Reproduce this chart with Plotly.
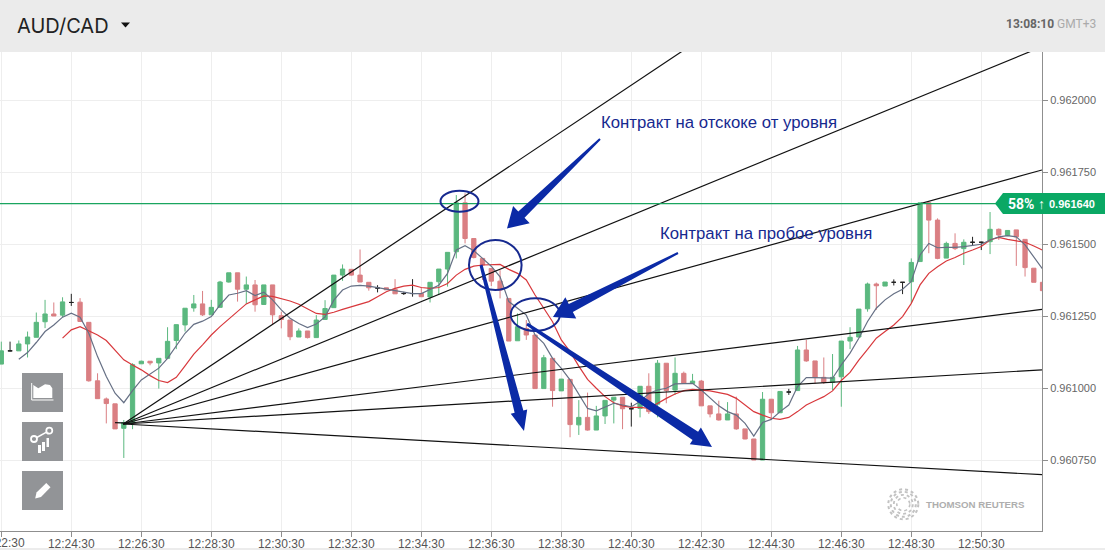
import math
import pandas as pd
import plotly.graph_objects as go

# ---------- data (prices in millionths) ----------
open_e6 = [961083,961129,961129,961153,961176,961230,961257,961253,961297,961298,
961228,961025,960962,960945,960860,960880,961084,961093,961087,961103,
961165,961219,961278,961292,961254,961280,961368,961400,961343,961358,
961290,961358,961251,961236,961177,961198,961175,961238,961279,961392,
961412,961392,961367,961347,961348,961343,961328,961328,961328,961316,
961369,961413,961473,961643,961519,961450,961415,961371,961311,961164,
961207,961184,960998,961103,960990,961030,960872,960898,960854,960903,
960958,960968,960928,960929,961006,960944,961086,960993,961051,961016,
961024,960938,960910,960889,960910,960858,960823,960750,960961,960914,
960986,960991,961132,961094,961037,961019,961039,961163,961177,961275,
961361,961354,961367,961367,961369,961439,961643,961583,961451,961502,
961484,961506,961506,961508,961551,961529,961549,961516,961416,961367]
high_e6 = [961161,961161,961165,961196,961262,961306,961297,961315,961327,961312,
961228,961051,960967,960945,960889,961086,961095,961093,961103,961211,
961220,961277,961323,961337,961306,961372,961400,961400,961387,961375,
961358,961358,961265,961236,961207,961198,961253,961305,961392,961429,
961412,961481,961367,961357,961348,961378,961334,961378,961349,961367,
961413,961471,961670,961676,961519,961450,961415,961409,961311,961259,
961236,961184,961115,961103,961031,961030,960958,960984,960938,960957,
960968,960968,960949,961006,961051,961097,961086,961106,961057,961049,
961028,960938,960956,960951,960970,960858,960823,960986,960961,960988,
960997,961146,961167,961094,961106,961118,961163,961211,961274,961366,
961366,961368,961377,961367,961450,961643,961647,961589,961508,961537,
961516,961525,961508,961611,961554,961547,961549,961516,961416,961367]
low_e6 = [961083,961127,961129,961106,961176,961208,961250,961246,961285,961231,
961022,960963,960877,960858,960757,960857,961084,961079,960998,961103,
961135,961196,961265,961250,961254,961280,961366,961300,961292,961265,
961290,961219,961207,961166,961177,961172,961175,961236,961279,961372,
961390,961368,961338,961332,961340,961327,961323,961317,961317,961297,
961323,961352,961450,961502,961450,961375,961354,961311,961163,961164,
961167,960998,960998,960935,960990,960829,960837,960852,960854,960875,
960877,960857,960866,960898,960910,960898,960947,960976,961014,961014,
960938,960898,960887,960889,960855,960822,960750,960750,960891,960914,
960976,960991,961091,961015,961014,960993,960935,961135,961177,961265,
961271,961354,961356,961326,961294,961439,961468,961447,961451,961479,
961427,961493,961479,961465,961514,961529,961424,961387,961367,961338]
close_e6 = [961129,961129,961153,961177,961228,961257,961250,961299,961297,961231,
961025,960963,960946,960858,960880,961081,961093,961087,961103,961162,
961220,961277,961292,961254,961280,961368,961400,961343,961358,961289,
961358,961254,961238,961178,961198,961175,961236,961276,961392,961413,
961392,961368,961348,961347,961341,961327,961328,961328,961317,961367,
961413,961471,961643,961519,961453,961427,961371,961340,961163,961213,
961184,960998,961105,960991,961031,960873,960898,960854,960903,960957,
960968,960928,960928,961006,960918,961086,960991,961051,961016,961024,
960938,960910,960889,960910,960858,960823,960750,960961,960914,960988,
960986,961132,961094,961036,961019,961037,961163,961176,961274,961361,
961355,961368,961367,961367,961436,961643,961583,961450,961502,961484,
961506,961506,961506,961551,961531,961547,961525,961418,961367,961338]

fast_ma_e6 = [None,None,961100,961123,961158,961196,961219,961246,961260,961246,
961190,961109,961040,960982,960949,960991,961028,961049,961069,961103,
961146,961190,961221,961232,961248,961289,961323,961329,961338,961321,
961333,961306,961271,961242,961224,961210,961222,961247,961305,961340,
961354,961356,961354,961349,961344,961338,961332,961328,961328,961342,
961357,961398,961479,961494,961477,961450,961423,961386,961300,961277,
961253,961184,961155,961103,961068,961028,960976,960929,960921,960935,
960947,960941,960935,960953,960981,960993,960999,961014,961016,961016,
960993,960964,960938,960918,960906,960877,960833,960880,960891,960918,
960941,961005,961036,961036,961034,961034,961080,961121,961173,961231,
961277,961306,961327,961343,961370,961462,961502,961487,961488,961488,
961491,961494,961499,961514,961525,961529,961525,961497,961456,961413]

slow_ma_e6 = [None,None,None,None,None,None,None,961173,961202,961213,
961199,961184,961165,961132,961098,961080,961063,961043,961026,961019,
961037,961077,961118,961150,961184,961213,961239,961268,961292,961306,
961320,961318,961311,961302,961291,961274,961259,961256,961263,961273,
961282,961291,961300,961317,961334,961346,961354,961357,961349,961346,
961349,961363,961392,961412,961423,961427,961429,961429,961412,961398,
961375,961323,961277,961230,961167,961126,961076,961030,960999,960970,
960949,960938,960933,960933,960929,960947,960964,960979,960991,960995,
960993,960990,960984,960978,960964,960941,960918,960906,960895,960891,
960898,960918,960941,960956,960970,960990,961026,961054,961097,961134,
961173,961196,961219,961248,961294,961358,961398,961421,961441,961453,
961468,961479,961491,961514,961523,961516,961511,961506,961493,961479]

first_candle = "2024-01-01 12:22:30"
first_tick_label = "12:22:30"
current_price = 0.961640
current_line_times = ["2024-01-01 12:22:00", "2024-01-01 12:53:00"]
payout_text = "58% ↑"
price_text = "0.961640"
y_ticks = [0.960750, 0.961000, 0.961250, 0.961500, 0.961750, 0.962000]

fan_start_time = "2024-01-01 12:25:59"
fan_start_price = 0.960875
fan_end_times = ["2024-01-01 12:42:11"] + ["2024-01-01 12:52:14"] * 5
fan_end_prices = [0.962188, 0.962185, 0.961757, 0.961273, 0.961063, 0.960699]
stub_times = ["2024-01-01 12:25:45", "2024-01-01 12:26:07"]
stub_prices = [0.960880, 0.960878]

# ---------- page geometry ----------
W, H = 1105, 550
L, R, T, B = 0, 1042, 52, 531

GREEN, RED = "#5bb87f", "#da7f83"
BLUE = "#0b2aa6"
NAVY = "#16298f"
times = pd.date_range(first_candle, periods=len(open_e6), freq="15s")

def px(x):
    return (x - L) / (R - L)

def py(y):
    return (B - y) / (B - T)

def path(points, close=True):
    d = "M" + " L".join(f"{px(x):.5f},{py(y):.5f}" for x, y in points)
    return d + (" Z" if close else "")

def poly(points, fill, close=True, line=None, width=0):
    return dict(type="path", xref="paper", yref="paper", path=path(points, close),
                fillcolor=fill if close else "rgba(0,0,0,0)",
                line=dict(color=line or fill, width=width))

def rect(x0, y0, x1, y1, fill):
    return dict(type="rect", xref="paper", yref="paper", x0=px(x0), x1=px(x1),
                y0=py(y0), y1=py(y1), fillcolor=fill, line=dict(width=0))

def ellipse(cx, cy, rx, ry, color=NAVY, width=2, fill="rgba(0,0,0,0)", dash="solid"):
    return dict(type="circle", xref="paper", yref="paper", x0=px(cx - rx), x1=px(cx + rx),
                y0=py(cy + ry), y1=py(cy - ry), fillcolor=fill,
                line=dict(color=color, width=width, dash=dash))

def arrow(start, tip, w0, w1, head_w, head_l):
    (x0, y0), (x1, y1) = start, tip
    n = math.hypot(x1 - x0, y1 - y0)
    ux, uy = (x1 - x0) / n, (y1 - y0) / n
    nx, ny = -uy, ux
    bx, by = x1 - ux * head_l, y1 - uy * head_l
    return poly([
        (x0 + nx * w0 / 2, y0 + ny * w0 / 2),
        (bx + nx * w1 / 2, by + ny * w1 / 2),
        (bx + nx * head_w / 2, by + ny * head_w / 2),
        (x1, y1),
        (bx - nx * head_w / 2, by - ny * head_w / 2),
        (bx - nx * w1 / 2, by - ny * w1 / 2),
        (x0 - nx * w0 / 2, y0 - ny * w0 / 2),
    ], BLUE)

# ---------- traces ----------
fig = go.Figure()
scaled = lambda seq: [None if v is None else v / 1e6 for v in seq]
body = [i for i in range(len(open_e6)) if open_e6[i] != close_e6[i]]
doji = [i for i in range(len(open_e6)) if open_e6[i] == close_e6[i]]

def candle(idx, up, down):
    return go.Candlestick(
        x=[times[i] for i in idx],
        open=[open_e6[i] / 1e6 for i in idx], high=[high_e6[i] / 1e6 for i in idx],
        low=[low_e6[i] / 1e6 for i in idx], close=[close_e6[i] / 1e6 for i in idx],
        increasing=dict(line=dict(color=up, width=1), fillcolor=up),
        decreasing=dict(line=dict(color=down, width=1), fillcolor=down),
        whiskerwidth=0, showlegend=False)

fig.add_trace(candle(body, GREEN, RED))
fig.add_trace(candle(doji, "#222222", "#222222"))
fig.add_trace(go.Scatter(x=times, y=scaled(slow_ma_e6), mode="lines",
                         line=dict(color="#d8383c", width=1.2), connectgaps=False))
fig.add_trace(go.Scatter(x=times, y=scaled(fast_ma_e6), mode="lines",
                         line=dict(color="#667085", width=1.2), connectgaps=False))
for t_end, p_end in zip(fan_end_times, fan_end_prices):
    fig.add_trace(go.Scatter(x=[fan_start_time, t_end], y=[fan_start_price, p_end], mode="lines",
                             line=dict(color="#111111", width=1.2)))
fig.add_trace(go.Scatter(x=stub_times, y=stub_prices, mode="lines",
                         line=dict(color="#111111", width=1.2)))
fig.add_trace(go.Scatter(x=current_line_times, y=[current_price, current_price], mode="lines",
                         line=dict(color="#1aa55f", width=1.2)))

# ---------- decorations ----------
shapes = [
    rect(0, 0, W, T, "#ebebeb"),
    rect(0, 548, W, H, "#ececec"),
    poly([(121, 22.5), (130, 22.5), (125.5, 27.5)], "#111111"),
    # price tag
    poly([(995, 203.5), (1003, 193), (W, 193), (W, 214), (1003, 214)], "#0aa864"),
    # tool buttons
    rect(22, 373, 63, 412, "#929497"),
    rect(22, 422, 63, 461, "#929497"),
    rect(22, 471, 63, 510, "#929497"),
    # area icon
    poly([(31.7, 383), (31.7, 400), (53.5, 400)], "#ffffff", close=False, line="#ffffff", width=1),
    poly([(33.3, 398), (33.3, 385), (38.3, 388.3), (45, 384.3), (50, 385), (52.3, 388.3), (52.3, 398)], "#ffffff"),
    # indicator icon
    poly([(34, 439), (49.3, 430.7)], "#ffffff", close=False, line="#ffffff", width=1.5),
    ellipse(34, 439, 3, 3, color="#ffffff", width=1.8, fill="#929497"),
    ellipse(49.3, 430.7, 3, 3, color="#ffffff", width=1.8, fill="#929497"),
    rect(38, 445, 41, 453, "#ffffff"),
    rect(42, 442, 45, 451, "#ffffff"),
    rect(46.5, 438, 49, 447, "#ffffff"),
    # pencil icon
    poly([(36.5, 492.5), (46.3, 483), (50.5, 487.2), (41, 497), (35.2, 498.6)], "#ffffff"),
    # hand drawn marks
    ellipse(459.5, 201.2, 19, 10.5),
    ellipse(495.3, 265, 26.3, 25),
    ellipse(535.3, 314.6, 24.6, 16.4),
    arrow((600, 139), (507, 228.5), 2, 9, 24, 20),
    arrow((678, 253), (553, 317), 2, 9, 24, 20),
    arrow((481, 265), (524, 431), 3, 9, 17, 20),
    arrow((527, 324), (712, 447), 3, 10, 20, 20),
]
# logo rings
for r, width in [(6.5, 1.6), (9.5, 1.8), (12.5, 2), (15, 2)]:
    shapes.append(ellipse(903.3, 504.3, r, r, color="#c2c2c2", width=width, dash="dot"))

def note(x, y, text, size, color, family="Liberation Sans", anchor="left"):
    return dict(xref="paper", yref="paper", x=px(x), y=py(y), text=text, showarrow=False,
                xanchor=anchor, yanchor="middle", align=anchor,
                font=dict(size=size, color=color, family=family))

annotations = [
    note(15, 26, "AUD/CAD", 20, "#222222", family="Inter"),
    note(1098, 24, "<b>13:08:10</b> <span style='color:#aaaaaa'>GMT+3</span>", 12, "#666666",
         family="Roboto", anchor="right"),
    note(599, 122, "Контракт на отскоке от уровня", 16.75, NAVY),
    note(658, 234, "Контракт на пробое уровня", 16.75, NAVY),
    note(1006, 204, f"<b>{payout_text}</b>", 14, "#ffffff", family="Roboto"),
    note(1047, 204, f"<b>{price_text}</b>", 11, "#ffffff"),
    note(924, 504, "<b>THOMSON REUTERS</b>", 9.7, "#aeaeae"),
    note(1.3, 543, first_tick_label, 12, "#555555", anchor="center"),
]

axis_color = "#8f8f8f"
fig.update_layout(
    width=W, height=H, autosize=False, showlegend=False,
    margin=dict(l=L, r=W - R, t=T, b=H - B, pad=0),
    paper_bgcolor="#ffffff", plot_bgcolor="#ffffff",
    hovermode=False, shapes=shapes, annotations=annotations,
    font=dict(family="Liberation Sans", color="#555555"),
    xaxis=dict(
        type="date", range=["2024-01-01 12:22:27.77", "2024-01-01 12:52:14.05"],
        tick0=first_candle, dtick=120000, tickformat="%H:%M:%S", automargin=False,
        rangeslider=dict(visible=False), showgrid=True, gridcolor="#eeeeee", gridwidth=1,
        showline=True, linecolor=axis_color, linewidth=1, ticks="outside", ticklen=5,
        ticklabelstandoff=-3,
        tickcolor=axis_color, tickfont=dict(size=12, color="#555555"), zeroline=False,
    ),
    yaxis=dict(
        side="right", range=[0.96050347, 0.96216667], tickmode="array", tickvals=y_ticks,
        ticktext=[f"{v:.6f}" for v in y_ticks], automargin=False,
        showgrid=True, gridcolor="#eeeeee", gridwidth=1,
        showline=True, linecolor=axis_color, linewidth=1, ticks="outside", ticklen=5,
        tickcolor=axis_color, tickfont=dict(size=11, color="#666666"), zeroline=False,
    ),
)

fig.write_html("out.html", config={"displayModeBar": False},
               post_script="document.body.style.margin='0';document.body.style.overflow='hidden';")
